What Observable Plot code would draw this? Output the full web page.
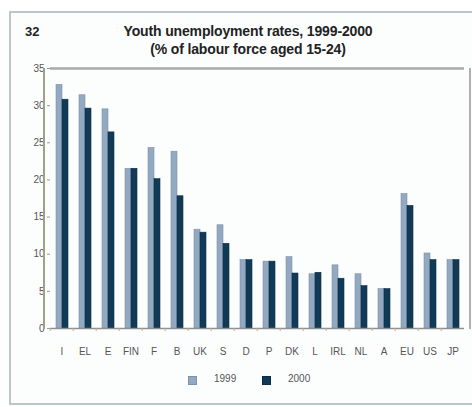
<!DOCTYPE html>
<html><head><meta charset="utf-8">
<script src="https://cdn.jsdelivr.net/npm/d3@7"></script>
<script src="https://cdn.jsdelivr.net/npm/@observablehq/plot@0.6"></script>
<style>
body{margin:0;background:#fff;font-family:"Liberation Sans",Arial,sans-serif;}
#wrap{position:relative;width:472px;height:407px;overflow:hidden;background:#fff;}
#frame{position:absolute;left:9px;top:11px;width:480px;height:394px;border:2px solid #b9c8c6;background:#fcfefe;box-sizing:border-box;}
.t{position:absolute;color:#222;font-weight:bold;white-space:nowrap;}
#num{left:25px;top:24px;font-size:13px;}
#title{left:0;width:496px;text-align:center;top:23px;font-size:14px;letter-spacing:-0.15px;}
#sub{left:0;width:496px;text-align:center;top:41px;font-size:14px;letter-spacing:-0.15px;}
#chart{position:absolute;left:0;top:60px;}
.ln{position:absolute;}
#legend{position:absolute;top:373px;left:0;width:472px;font-size:10px;color:#555;}
.sw{position:absolute;width:7px;height:7px;top:3px;}
.lt{position:absolute;top:0px;}
</style></head>
<body><div id="wrap">
<div id="frame"></div>
<div class="t" id="num">32</div>
<div class="t" id="title">Youth unemployment rates, 1999-2000</div>
<div class="t" id="sub">(% of labour force aged 15-24)</div>
<div id="chart"></div>
<div class="ln" style="left:43px;top:68px;width:1.5px;height:261px;background:#a0a08a"></div>
<div class="ln" style="left:469px;top:68px;width:1.5px;height:261px;background:#b0b0b0"></div>
<div id="legend"></div>
</div>
<script>
const countries = ["I","EL","E","FIN","F","B","UK","S","D","P","DK","L","IRL","NL","A","EU","US","JP"];
const years = ["1999","2000"];
const v1999 = [32.8,31.4,29.5,21.5,24.3,23.8,13.3,13.9,9.2,9.0,9.6,7.3,8.5,7.3,5.3,18.1,10.1,9.2];
const v2000 = [30.8,29.6,26.4,21.5,20.1,17.8,12.9,11.4,9.2,9.0,7.4,7.5,6.7,5.7,5.3,16.5,9.2,9.2];
const yTicks = [0,5,10,15,20,25,30,35];
const colors = ["#93a9c1","#113a57"];

const data = [];
countries.forEach((c,i)=>{
  data.push({country:c, year:years[0], value:v1999[i]});
  data.push({country:c, year:years[1], value:v2000[i]});
});

const chart = Plot.plot({
  width: 472, height: 305,
  marginTop: 8, marginBottom: 37, marginLeft: 44, marginRight: 3,
  style: {fontFamily: "Liberation Sans, Arial, sans-serif", fontSize: "10px", color: "#555", background: "transparent"},
  fx: {domain: countries, padding: 0, label: null},
  x: {domain: years, paddingInner: 0, paddingOuter: 0.8, axis: null},
  y: {domain: [0,35], label: null},
  color: {domain: years, range: colors},
  marks: [
    Plot.ruleY([35], {stroke: "#a9a9a9", strokeWidth: 2.5}),
    Plot.barY(data, {fx: "country", x: "year", y: "value", fill: "year", stroke: d => d.year === "1999" ? "#7d92a8" : "#0c2c44", strokeWidth: 0.6}),
    Plot.ruleY([0], {stroke: "#8b9091", strokeWidth: 1.5}),
    Plot.axisY({ticks: yTicks, tickSize: 3, tickPadding: 3, label: null, stroke: "#999"}),
    Plot.axisFx({anchor: "bottom", tickSize: 0, tickPadding: 19, label: null}),
    Plot.axisFx({anchor: "bottom", tickSize: 3, text: null, label: null, dx: -11.8, stroke: "#d4a080"})
  ]
});
document.getElementById("chart").appendChild(chart);

const leg = document.getElementById("legend");
const legX = [188, 262];
years.forEach((y,i)=>{
  const s = document.createElement("div");
  s.className = "sw"; s.style.left = legX[i] + "px"; s.style.background = colors[i];
  s.style.border = "1px solid " + (i===0 ? "#7d92a8" : "#0c2c44");
  leg.appendChild(s);
  const t = document.createElement("div");
  t.className = "lt"; t.style.left = (legX[i] + 26) + "px"; t.textContent = y;
  leg.appendChild(t);
});
</script>
</body></html>
